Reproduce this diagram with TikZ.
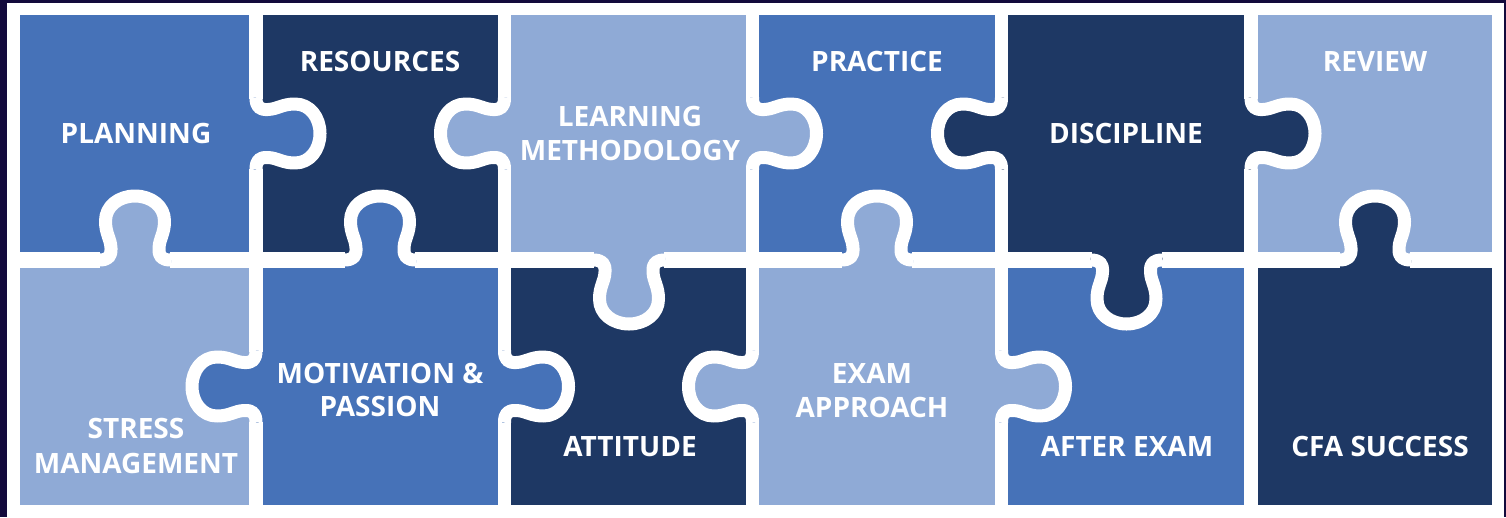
\documentclass[tikz,border=0pt]{standalone}
\usepackage{fontspec}
\setmainfont{Open Sans}
\definecolor{frame}{HTML}{130A3C}
\definecolor{cmed}{HTML}{4672B8}
\definecolor{cnavy}{HTML}{1E3864}
\definecolor{clight}{HTML}{8FAAD6}
\tikzset{
 vgap/.style={white, line width=13.5pt},
 hgap/.style={white, line width=16.5pt},
 kstroke/.style={white, line width=13pt, line join=round},
 lbl/.style={text=white, font=\fontsize{28}{34}\selectfont\bfseries, anchor=base, inner sep=0pt},
 kr/.style={x={(0pt,1pt)},y={(1pt,0pt)}},
 kl/.style={x={(0pt,1pt)},y={(-1pt,0pt)}},
 ku/.style={x={(1pt,0pt)},y={(0pt,1pt)}},
 kd/.style={x={(1pt,0pt)},y={(0pt,-1pt)}},
 knobp/.style={insert path={(-36,0) .. controls (-27,0) and (-23.5,3) .. (-24,12)
   .. controls (-24.5,22) and (-29.5,26) .. (-29.5,39)
   .. controls (-29.5,54) and (-16,64) .. (0,64)
   .. controls (16,64) and (29.5,54) .. (29.5,39)
   .. controls (29.5,26) and (24.5,22) .. (24,12)
   .. controls (23.5,3) and (27,0) .. (36,0)}},
}
\newcommand\puzknob[4]{\begin{scope}[shift={(#1,#2)},#3]
  \fill[#4, knobp] -- (36,-2.5) -- (-36,-2.5) -- cycle;
  \draw[kstroke, knobp];
\end{scope}}
\newcommand\vgapline[1]{\draw[vgap] (#1,15) -- (#1,98.5) (#1,168.5) -- (#1,351.5) (#1,421.5) -- (#1,505);}
\begin{document}
\begin{tikzpicture}[x=1pt,y=-1pt]
\useasboundingbox (0,0) rectangle (1506,517);
\fill[frame] (0,0) rectangle (1506,517);
\fill[white] (6.7,2.7) rectangle (1504.3,517);
% cells
\fill[cmed]   (20,15) rectangle (256,260);
\fill[cnavy]  (256,15) rectangle (504.5,260);
\fill[clight] (504.5,15) rectangle (752.5,260);
\fill[cmed]   (752.5,15) rectangle (1001.5,260);
\fill[cnavy]  (1001.5,15) rectangle (1251,260);
\fill[clight] (1251,15) rectangle (1491.7,260);
\fill[clight] (20,260) rectangle (256,505);
\fill[cmed]   (256,260) rectangle (504.5,505);
\fill[cnavy]  (504.5,260) rectangle (752.5,505);
\fill[clight] (752.5,260) rectangle (1001.5,505);
\fill[cmed]   (1001.5,260) rectangle (1251,505);
\fill[cnavy]  (1251,260) rectangle (1491.7,505);
% gaps
\vgapline{256}
\vgapline{504.5}
\vgapline{752.5}
\vgapline{1001.5}
\vgapline{1251}
\draw[vgap] (1251,350) -- (1251,423);
\draw[hgap] (20,260) -- (100,260) (170,260) -- (345,260) (415,260) -- (594,260)
  (664,260) -- (842,260) (912,260) -- (1091.5,260) (1161.5,260) -- (1340,260)
  (1410,260) -- (1491.7,260);
% knobs
\puzknob{256}{133.5}{kr}{cmed}
\puzknob{504.5}{133.5}{kl}{clight}
\puzknob{752.5}{133.5}{kr}{clight}
\puzknob{1001.5}{133.5}{kl}{cnavy}
\puzknob{1251}{133.5}{kr}{cnavy}
\puzknob{256}{386.5}{kl}{cmed}
\puzknob{504.5}{386.5}{kr}{cmed}
\puzknob{752.5}{386.5}{kl}{clight}
\puzknob{1001.5}{386.5}{kr}{clight}
\puzknob{135}{260}{ku}{clight}
\puzknob{380}{260}{ku}{cmed}
\puzknob{629}{260}{kd}{clight}
\puzknob{877}{260}{ku}{clight}
\puzknob{1126.5}{260}{kd}{cnavy}
\puzknob{1375}{260}{ku}{cnavy}
% labels
\node[lbl] (planning) at (136,143.3) {PLANNING};
\node[lbl] (resources) at (380,71.7) {RESOURCES};
\node[lbl] (learning) at (630,126) {LEARNING};
\node[lbl] (methodology) at (630,160) {METHODOLOGY};
\node[lbl] (practice) at (877,71.7) {PRACTICE};
\node[lbl] (discipline) at (1126,143.3) {DISCIPLINE};
\node[lbl] (review) at (1375,71.7) {REVIEW};
\node[lbl] (stress) at (136,438.3) {STRESS};
\node[lbl] (management) at (136,473.3) {MANAGEMENT};
\node[lbl] (motivation) at (380,383.3) {MOTIVATION \&};
\node[lbl] (passion) at (380,416.7) {PASSION};
\node[lbl] (attitude) at (630,456) {ATTITUDE};
\node[lbl] (exam) at (872,383) {EXAM};
\node[lbl] (approach) at (872,417) {APPROACH};
\node[lbl] (afterexam) at (1127,456) {AFTER EXAM};
\node[lbl] (cfa) at (1380,456) {CFA SUCCESS};
\end{tikzpicture}
\end{document}
